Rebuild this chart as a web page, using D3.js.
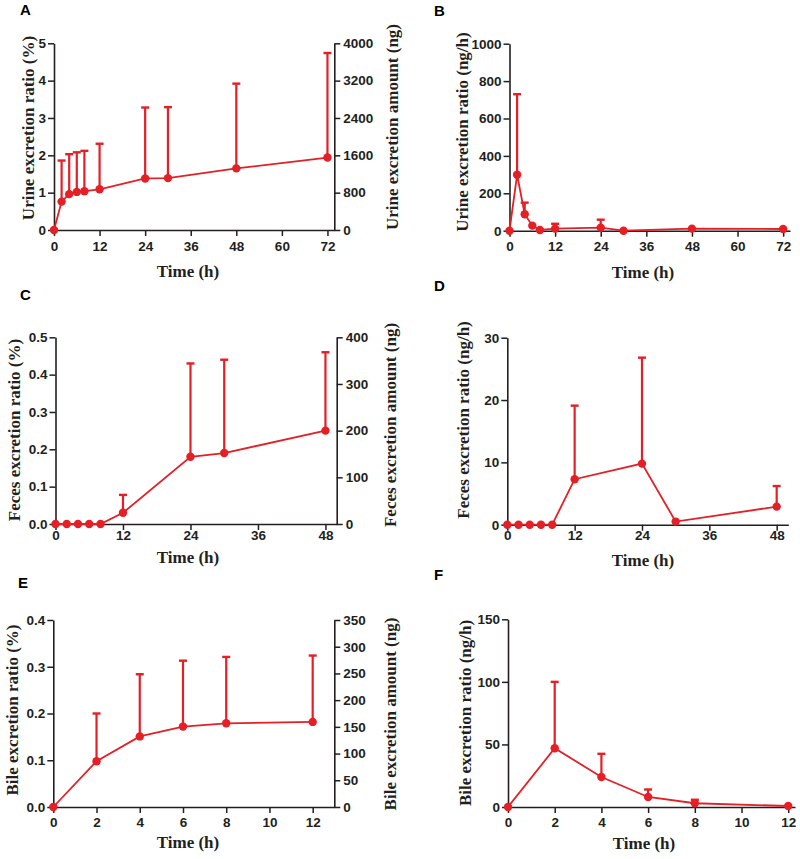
<!DOCTYPE html>
<html><head><meta charset="utf-8">
<script src="https://cdn.jsdelivr.net/npm/d3@7"></script>
<style>
body{margin:0;background:#fff;}
svg{display:block;}
.tick text{font-family:"Liberation Sans",Arial,sans-serif;font-weight:bold;font-size:13.5px;fill:#231f20;}
.ttl{font-family:"Liberation Serif","Times New Roman",serif;font-weight:bold;font-size:17px;fill:#231f20;}
.lbl{font-family:"Liberation Sans",Arial,sans-serif;font-weight:bold;font-size:15px;fill:#000;}
</style></head>
<body>
<svg id="c" width="800" height="859"></svg>
<script>
// ---- data ----
const urineTime = [0,2,4,6,8,12,24,30,48,72];
const urineCumRatio = [0,0.76,0.96,1.02,1.04,1.09,1.38,1.39,1.65,1.94];
const urineCumSD = [0,1.10,1.07,1.06,1.08,1.22,1.90,1.90,2.27,2.80];
const urineRate = [0,299,88,27,4,11,16,0,11,9];
const urineRateSD = [0,431,62,0,0,26,43,0,0,0];

const fecesTime = [0,2,4,6,8,12,24,30,48];
const fecesCumRatio = [0,0,0,0,0,0.03,0.18,0.19,0.25];
const fecesCumSD = [0,0,0,0,0,0.048,0.25,0.25,0.21];
const fecesRate = [0,0,0,0,0,7.3,9.8,0.5,2.9];
const fecesRateSD = [0,0,0,0,0,11.8,17.0,0,3.3];

const bileTime = [0,2,4,6,8,12];
const bileCumRatio = [0,0.098,0.151,0.172,0.179,0.182];
const bileCumSD = [0,0.102,0.133,0.141,0.142,0.142];
const bileRate = [0,47,24,8,3,0.8];
const bileRateSD = [0,53,18.5,6,2.8,0];

const ticks72 = [0,12,24,36,48,60,72];
const ticks48 = [0,12,24,36,48];
const ticks12 = [0,2,4,6,8,10,12];

const RED = "#e41f26", INK = "#231f20";
const svg = d3.select("#c");

function panel(o){
  const g = svg.append("g");
  const x = d3.scaleLinear().domain([0,o.xmax]).range([o.l,o.r]);
  const y = d3.scaleLinear().domain([0,o.ymax]).range([o.b,o.t]);
  const xa = g.append("g").attr("transform",`translate(0,${o.b})`)
    .call(d3.axisBottom(x).tickValues(o.xticks).tickSize(6).tickSizeOuter(0).tickPadding(o.xpad).tickFormat(d3.format("")));
  const ya = g.append("g").attr("transform",`translate(${o.l},0)`)
    .call(d3.axisLeft(y).tickValues(o.yticks).tickSize(6).tickSizeOuter(0).tickPadding(2).tickFormat(o.yfmt||d3.format("")));
  const axes=[xa,ya];
  if(o.y2max){
    const y2 = d3.scaleLinear().domain([0,o.y2max]).range([o.b,o.t]);
    const ra = g.append("g").attr("transform",`translate(${o.r},0)`)
      .call(d3.axisRight(y2).tickValues(o.y2ticks).tickSize(6).tickSizeOuter(0).tickPadding(3).tickFormat(d3.format("")));
    axes.push(ra);
    g.append("text").attr("class","ttl").attr("text-anchor","middle")
      .attr("transform",`translate(${o.y2tx},${o.y2ty}) rotate(-90)`).attr("dy","0.35em").text(o.y2title);
  }
  axes.forEach(a=>{a.select(".domain").attr("stroke",INK).attr("stroke-width",1.6);
    a.selectAll(".tick line").attr("stroke",INK).attr("stroke-width",1.5);});
  g.append("text").attr("class","ttl").attr("text-anchor","middle")
    .attr("transform",`translate(${o.ytx},${o.yty}) rotate(-90)`).attr("dy","0.35em").text(o.ytitle);
  g.append("text").attr("class","ttl").attr("text-anchor","middle")
    .attr("x",o.xtx).attr("y",o.xty).text("Time (h)");
  g.append("text").attr("class","lbl").attr("x",o.lx).attr("y",o.ly).text(o.label);
  const pts = o.tx.map((t,i)=>({t,v:o.v[i],sd:o.sd[i]}));
  const eb = g.append("g").attr("stroke",RED).attr("stroke-width",2.2);
  pts.filter(d=>d.sd>0).forEach(d=>{
    eb.append("line").attr("x1",x(d.t)).attr("x2",x(d.t)).attr("y1",y(d.v)).attr("y2",y(d.v+d.sd));
    eb.append("line").attr("x1",x(d.t)-4).attr("x2",x(d.t)+4).attr("y1",y(d.v+d.sd)).attr("y2",y(d.v+d.sd)).attr("stroke-width",2.4);
  });
  g.append("path").datum(pts).attr("fill","none").attr("stroke",RED).attr("stroke-width",1.8)
    .attr("d",d3.line().x(d=>x(d.t)).y(d=>y(d.v)));
  g.selectAll("circle.m").data(pts).join("circle").attr("class","m")
    .attr("cx",d=>x(d.t)).attr("cy",d=>y(d.v)).attr("r",4.2).attr("fill",RED);
}

panel({label:"A",lx:20,ly:15,l:54,r:334.3,t:43.3,b:230,xmax:73.8,xticks:ticks72,xpad:5,
  ymax:5,yticks:[0,1,2,3,4,5],y2max:4000,y2ticks:[0,800,1600,2400,3200,4000],
  tx:urineTime,v:urineCumRatio,sd:urineCumSD,
  ytitle:"Urine excretion ratio (%)",ytx:28,yty:128,
  y2title:"Urine excretion amount (ng)",y2tx:392,y2ty:127,xtx:188,xty:277});

panel({label:"B",lx:434,ly:16,l:509.5,r:790,t:43.7,b:230.7,xmax:73.8,xticks:ticks72,xpad:5,
  ymax:1000,yticks:[0,200,400,600,800,1000],
  tx:urineTime,v:urineRate,sd:urineRateSD,
  ytitle:"Urine excretion ratio (ng/h)",ytx:462,yty:132,xtx:643,xty:278});

panel({label:"C",lx:20,ly:300,l:55.5,r:336.7,t:337.3,b:524,xmax:50,xticks:ticks48,xpad:0,
  ymax:0.5,yticks:[0,0.1,0.2,0.3,0.4,0.5],yfmt:d3.format(".1f"),y2max:400,y2ticks:[0,100,200,300,400],
  tx:fecesTime,v:fecesCumRatio,sd:fecesCumSD,
  ytitle:"Feces excretion ratio (%)",ytx:14,yty:430,
  y2title:"Feces excretion amount (ng)",y2tx:390,y2ty:425,xtx:188,xty:563});

panel({label:"D",lx:434,ly:291,l:507.3,r:788.3,t:337.7,b:524.7,xmax:50.07,xticks:ticks48,xpad:0,
  ymax:30,yticks:[0,10,20,30],
  tx:fecesTime,v:fecesRate,sd:fecesRateSD,
  ytitle:"Feces excretion ratio (ng/h)",ytx:463,yty:420,xtx:643,xty:566});

panel({label:"E",lx:18,ly:588,l:53.3,r:334.3,t:620,b:807,xmax:13,xticks:ticks12,xpad:4,
  ymax:0.4,yticks:[0,0.1,0.2,0.3,0.4],yfmt:d3.format(".1f"),y2max:350,y2ticks:[0,50,100,150,200,250,300,350],
  tx:bileTime,v:bileCumRatio,sd:bileCumSD,
  ytitle:"Bile excretion ratio (%)",ytx:12,yty:710,
  y2title:"Bile excretion amount (ng)",y2tx:390,y2ty:714,xtx:188,xty:848});

panel({label:"F",lx:434,ly:580,l:508,r:795,t:619.3,b:807,xmax:12.29,xticks:ticks12,xpad:4,
  ymax:150,yticks:[0,50,100,150],
  tx:bileTime,v:bileRate,sd:bileRateSD,
  ytitle:"Bile excretion ratio (ng/h)",ytx:465,yty:713,xtx:644,xty:849});
</script>
</body></html>
